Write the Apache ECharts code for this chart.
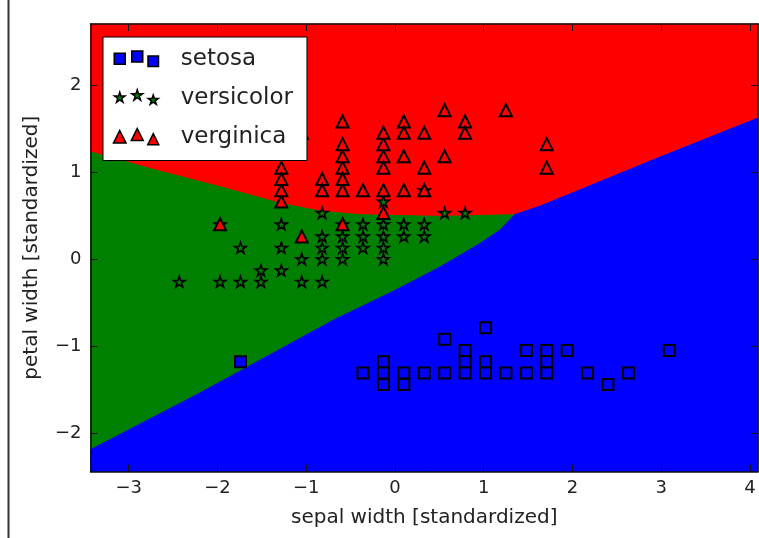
<!DOCTYPE html>
<html>
<head>
<meta charset="utf-8">
<title>Iris decision regions</title>
<script src="https://cdn.jsdelivr.net/npm/echarts@6/dist/echarts.min.js"></script>
<style>
  html, body { margin: 0; padding: 0; background: #fff; }
  #chart { width: 759px; height: 538px; }
</style>
</head>
<body>
<div id="chart"></div>
<script>
// Axis extents and tick positions (standardized units)
const xRange = [-3.43, 4.09];
const yRange = [-2.44, 2.70];
const xTicks = [-3, -2, -1, 0, 1, 2, 3, 4];
const yTicks = [-2, -1, 0, 1, 2];

const classNames = ['setosa', 'versicolor', 'verginica'];

// Samples: [sepal width, petal width], both standardized
const setosa = [
  [-1.74, -1.18], [-0.36, -1.31], [-0.13, -1.18], [-0.13, -1.31], [-0.13, -1.44],
  [0.10, -1.31], [0.10, -1.44], [0.33, -1.31], [0.56, -0.92], [0.56, -1.31],
  [0.79, -1.05], [0.79, -1.18], [0.79, -1.31], [1.02, -0.79], [1.02, -1.18],
  [1.02, -1.31], [1.25, -1.31], [1.48, -1.05], [1.48, -1.31], [1.71, -1.05],
  [1.71, -1.18], [1.71, -1.31], [1.94, -1.05], [2.17, -1.31], [2.40, -1.44],
  [2.63, -1.31], [3.09, -1.05]
];
const versicolor = [
  [0.33, 0.26], [0.33, 0.40], [0.10, 0.40], [-1.74, 0.13], [-0.59, 0.40],
  [-0.59, 0.13], [0.56, 0.53], [-1.51, -0.26], [-0.36, 0.13], [-0.82, 0.26],
  [-2.43, -0.26], [-0.13, 0.40], [-1.97, -0.26], [-0.36, 0.26], [0.10, 0.26],
  [-1.97, 0.40], [-1.28, -0.13], [0.33, 0.79], [-1.28, 0.40], [-0.59, 0.00],
  [-0.13, 0.26], [-0.59, 0.26], [-0.13, 0.66], [-0.36, 0.40], [-1.05, -0.26],
  [-1.51, -0.13], [-0.82, 0.00], [-0.82, 0.53], [0.79, 0.53], [-0.13, 0.13],
  [-1.28, 0.13], [-1.05, 0.00], [-1.74, -0.26], [-0.82, 0.13], [-0.13, 0.00],
  [-0.82, -0.26]
];
const virginica = [
  [0.56, 1.71], [-0.82, 0.92], [-0.13, 1.18], [-0.36, 0.79], [-0.13, 1.32],
  [-1.28, 0.66], [-1.28, 0.79], [1.25, 1.71], [0.33, 1.05], [-1.28, 1.05],
  [-0.59, 1.58], [0.33, 1.45], [-0.13, 0.79], [1.71, 1.32], [-1.05, 1.45],
  [-1.97, 0.40], [-0.59, 1.05], [0.56, 1.18], [0.33, 0.79], [-0.82, 0.79],
  [-0.59, 0.79], [-0.59, 1.18], [-0.13, 0.53], [-0.59, 0.92], [1.71, 1.05],
  [-0.59, 1.32], [-0.59, 0.40], [-1.05, 0.26], [-0.13, 1.45], [0.79, 1.58],
  [0.10, 0.79], [0.10, 1.18], [0.10, 1.58], [0.10, 1.45], [-1.28, 0.92],
  [-0.13, 1.05], [0.79, 1.45]
];

// Decision boundaries between the class regions, left to right
const redGreenEdge = [
  [-3.43, 1.23], [-2.65, 1.01], [-1.97, 0.83], [-1.29, 0.64], [-0.84, 0.55],
  [-0.39, 0.51], [0.51, 0.49], [1.35, 0.51]
];
const greenBlueEdge = [
  [-3.43, -2.19], [-2.20, -1.54], [-0.69, -0.70], [0.00, -0.36], [0.51, -0.09],
  [0.96, 0.18], [1.18, 0.33], [1.35, 0.51]
];
const blueRedEdge = [
  [1.35, 0.51], [1.64, 0.61], [2.91, 1.14], [4.09, 1.62]
];

const FONT = 'DejaVu Sans';
const INK = '#222';

// Region outlines built from the boundary arrays and the axis extents
function redRegion() {
  return [[xRange[0], yRange[1]], [xRange[1], yRange[1]]]
    .concat(blueRedEdge.slice().reverse())
    .concat(redGreenEdge.slice().reverse().slice(1));
}
function greenRegion() {
  return redGreenEdge.concat(greenBlueEdge.slice().reverse().slice(1));
}
function blueRegion() {
  return greenBlueEdge.concat(blueRedEdge.slice(1))
    .concat([[xRange[1], yRange[0]], [xRange[0], yRange[0]]]);
}

function regionSeries(name, color, build) {
  return {
    type: 'custom',
    name: name,
    silent: true,
    z: 1,
    data: [[0, 0]],
    renderItem: function (params, api) {
      return {
        type: 'polygon',
        shape: { points: build().map(function (p) { return api.coord(p); }) },
        style: { fill: color, stroke: color, lineWidth: 1 }
      };
    }
  };
}

// Five-pointed star outline centred on (cx, cy)
function starPath(cx, cy, R) {
  const r = R * 0.382;
  let d = '';
  for (let k = 0; k < 10; k++) {
    const a = -Math.PI / 2 + k * Math.PI / 5;
    const rad = k % 2 ? r : R;
    d += (k ? 'L' : 'M') + (cx + rad * Math.cos(a)).toFixed(2) + ',' + (cy + rad * Math.sin(a)).toFixed(2);
  }
  return d + 'Z';
}
function squarePath(cx, cy, s) {
  const h = s / 2;
  return 'M' + (cx - h) + ',' + (cy - h) + 'h' + s + 'v' + s + 'h' + (-s) + 'Z';
}
function trianglePath(cx, cy, s) {
  const h = s / 2;
  return 'M' + cx + ',' + (cy - h) + 'L' + (cx + h) + ',' + (cy + h) + 'L' + (cx - h) + ',' + (cy + h) + 'Z';
}

// Legend glyph: three markers per entry inside a fixed 63x24 box
const LEG_W = 63, LEG_H = 24;
const legendSpots = [[7, 12], [24.5, 9.8], [40.5, 14.4]];
function legendIcon(shape, sizes) {
  let d = 'M0,0M' + LEG_W + ',' + LEG_H;
  legendSpots.forEach(function (c, i) { d += shape(c[0], c[1], sizes[i]); });
  return 'path://' + d;
}

const starSymbol = 'path://' + starPath(0, 0, 10);

const minus = function (v) { return v < 0 ? '\u2212' + Math.abs(v) : String(v); };

const axisLineStyle = { color: '#111', width: 1.5 };
const tickStyle = { color: '#111', width: 1 };

const option = {
  backgroundColor: '#fff',
  animation: false,
  grid: { left: 90.5, right: 1, top: 24, bottom: 66.5, outerBoundsMode: 'none' },
  xAxis: [
    {
      type: 'value', min: xRange[0], max: xRange[1], position: 'bottom', z: 5,
      name: 'sepal width [standardized]', nameLocation: 'middle', nameGap: 36,
      nameTextStyle: { fontFamily: FONT, fontSize: 20, color: INK },
      axisLine: { show: true, onZero: false, lineStyle: axisLineStyle },
      axisTick: { show: true, inside: true, length: 7, customValues: xTicks, lineStyle: tickStyle },
      axisLabel: { customValues: xTicks, formatter: minus, fontFamily: FONT, fontSize: 18, color: INK, margin: 8 },
      splitLine: { show: false }
    },
    {
      type: 'value', min: xRange[0], max: xRange[1], position: 'top', z: 5,
      axisLine: { show: true, onZero: false, lineStyle: axisLineStyle },
      axisTick: { show: true, inside: true, length: 7, customValues: xTicks, lineStyle: tickStyle },
      axisLabel: { show: false },
      splitLine: { show: false }
    }
  ],
  yAxis: [
    {
      type: 'value', min: yRange[0], max: yRange[1], position: 'left', z: 5,
      name: 'petal width [standardized]', nameLocation: 'middle', nameGap: 49,
      nameTextStyle: { fontFamily: FONT, fontSize: 20, color: INK },
      axisLine: { show: true, onZero: false, lineStyle: axisLineStyle },
      axisTick: { show: true, inside: true, length: 7, customValues: yTicks, lineStyle: tickStyle },
      axisLabel: { customValues: yTicks, formatter: minus, fontFamily: FONT, fontSize: 18, color: INK, margin: 9 },
      splitLine: { show: false }
    },
    {
      type: 'value', min: yRange[0], max: yRange[1], position: 'right', z: 5,
      axisLine: { show: true, onZero: false, lineStyle: axisLineStyle },
      axisTick: { show: true, inside: true, length: 7, customValues: yTicks, lineStyle: tickStyle },
      axisLabel: { show: false },
      splitLine: { show: false }
    }
  ],
  legend: {
    orient: 'vertical',
    left: 103, top: 37,
    padding: [9, 14, 11, 9],
    itemWidth: LEG_W, itemHeight: LEG_H, itemGap: 13.5,
    backgroundColor: '#fff', borderColor: '#000', borderWidth: 1,
    selectedMode: false,
    z: 10,
    itemStyle: { borderColor: '#000', borderWidth: 1.5 },
    textStyle: { fontFamily: FONT, fontSize: 23, color: INK, lineHeight: 24 },
    data: [
      { name: classNames[0], icon: legendIcon(squarePath, [11, 11, 10.5]) },
      { name: classNames[1], icon: legendIcon(function (x, y, s) { return starPath(x, y, s / 2); }, [11, 11.5, 10.5]) },
      { name: classNames[2], icon: legendIcon(trianglePath, [12.5, 12, 11]) }
    ]
  },
  graphic: [
    { type: 'line', shape: { x1: 8.5, y1: 0, x2: 8.5, y2: 538 }, style: { stroke: '#333', lineWidth: 2 }, silent: true }
  ],
  series: [
    regionSeries('red region', '#ff0000', redRegion),
    regionSeries('green region', '#008000', greenRegion),
    regionSeries('blue region', '#0000ff', blueRegion),
    {
      type: 'scatter', name: classNames[0], data: setosa,
      symbol: 'rect', symbolSize: 11, z: 3,
      itemStyle: { color: '#0000ff', borderColor: '#000', borderWidth: 2, opacity: 1 },
      emphasis: { disabled: true }
    },
    {
      type: 'scatter', name: classNames[1], data: versicolor,
      symbol: starSymbol, symbolSize: [11.6, 11], z: 3,
      itemStyle: { color: '#008000', borderColor: '#000', borderWidth: 1.6, opacity: 1 },
      emphasis: { disabled: true }
    },
    {
      type: 'scatter', name: classNames[2], data: virginica,
      symbol: 'triangle', symbolSize: 12, z: 3,
      itemStyle: { color: '#ff0000', borderColor: '#000', borderWidth: 2, opacity: 1 },
      emphasis: { disabled: true }
    }
  ]
};

const chart = echarts.init(document.getElementById('chart'), null, { renderer: 'canvas' });
chart.setOption(option);
</script>
</body>
</html>
